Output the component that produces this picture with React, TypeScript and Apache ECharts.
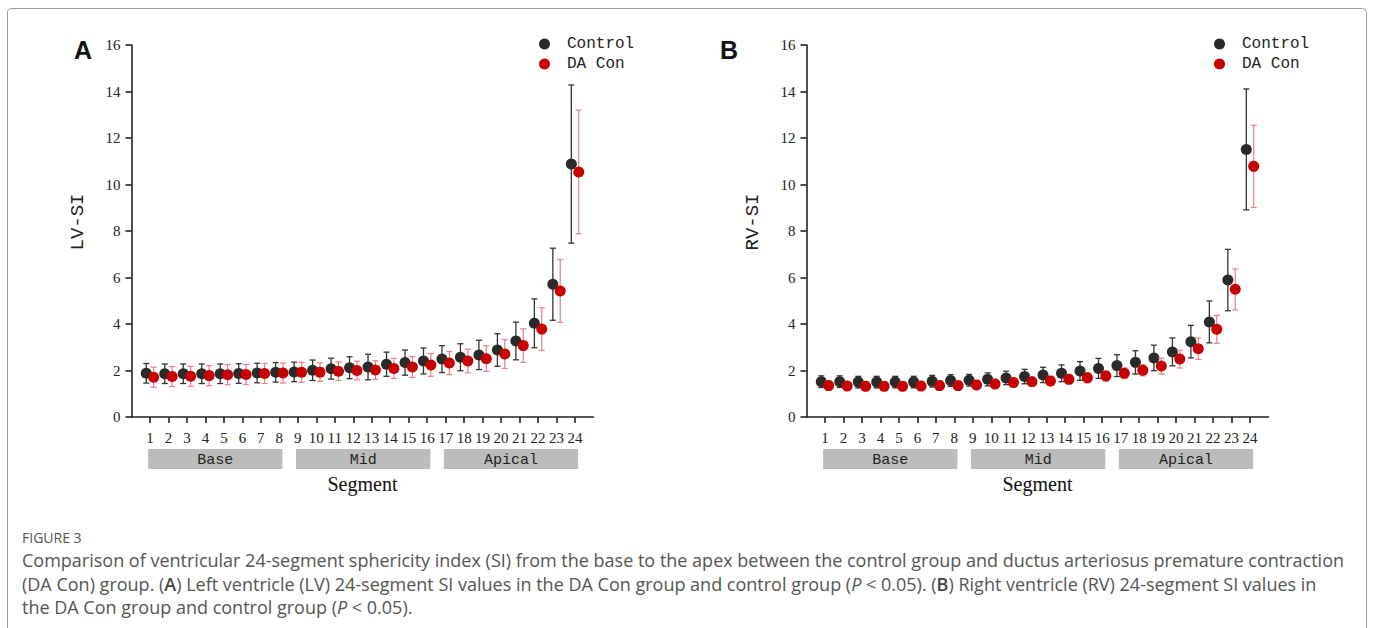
import React, { useEffect, useRef } from "react";
import * as echarts from "echarts";

// ---- data ----
const segments = [1, 2, 3, 4, 5, 6, 7, 8, 9, 10, 11, 12, 13, 14, 15, 16, 17, 18, 19, 20, 21, 22, 23, 24];

const lvControlMean = [1.88, 1.86, 1.86, 1.86, 1.86, 1.87, 1.89, 1.92, 1.94, 2.01, 2.08, 2.12, 2.15, 2.27, 2.34, 2.41, 2.49, 2.57, 2.67, 2.88, 3.27, 4.03, 5.71, 10.88];
const lvControlSD = [0.42, 0.42, 0.42, 0.42, 0.42, 0.42, 0.42, 0.42, 0.42, 0.44, 0.45, 0.47, 0.55, 0.52, 0.54, 0.56, 0.58, 0.58, 0.63, 0.7, 0.81, 1.05, 1.55, 3.4];
const lvDaMean = [1.71, 1.74, 1.75, 1.78, 1.82, 1.83, 1.87, 1.89, 1.92, 1.93, 1.97, 2.0, 2.02, 2.09, 2.15, 2.24, 2.32, 2.41, 2.51, 2.71, 3.07, 3.78, 5.42, 10.54];
const lvDaSD = [0.43, 0.43, 0.43, 0.43, 0.43, 0.43, 0.43, 0.43, 0.43, 0.4, 0.4, 0.4, 0.4, 0.43, 0.45, 0.49, 0.5, 0.51, 0.55, 0.62, 0.72, 0.92, 1.35, 2.66];

const rvControlMean = [1.52, 1.52, 1.5, 1.5, 1.5, 1.5, 1.54, 1.57, 1.58, 1.62, 1.68, 1.74, 1.81, 1.88, 1.98, 2.09, 2.21, 2.35, 2.54, 2.8, 3.24, 4.09, 5.89, 11.51];
const rvControlSD = [0.25, 0.25, 0.25, 0.25, 0.25, 0.25, 0.25, 0.25, 0.25, 0.28, 0.29, 0.31, 0.33, 0.36, 0.4, 0.43, 0.47, 0.5, 0.55, 0.6, 0.7, 0.9, 1.32, 2.6];
const rvDaMean = [1.35, 1.33, 1.32, 1.32, 1.32, 1.33, 1.35, 1.35, 1.38, 1.42, 1.48, 1.52, 1.55, 1.62, 1.69, 1.76, 1.88, 2.01, 2.19, 2.49, 2.94, 3.77, 5.49, 10.78];
const rvDaSD = [0.2, 0.2, 0.2, 0.2, 0.2, 0.2, 0.2, 0.2, 0.2, 0.2, 0.2, 0.2, 0.2, 0.21, 0.22, 0.22, 0.23, 0.24, 0.34, 0.38, 0.46, 0.6, 0.88, 1.77];

const yTicks = [0, 2, 4, 6, 8, 10, 12, 14, 16];
const bandNames = ["Base", "Mid", "Apical"];
const bandStart = [1, 9, 17];
const bandEnd = [8, 16, 24];
const seriesNames = ["Control", "DA Con"];
const panelTitles = ["LV-SI", "RV-SI"];

// ---- styles ----
const BLACK = "#2a2a2a";
const RED = "#c80000";
const BLACK_BAR = "#333333";
const RED_BAR = "#e8808a";
const SERIF = "'Liberation Serif', 'DejaVu Serif', serif";
const MONO = "'Liberation Mono', 'DejaVu Sans Mono', monospace";
const SANS = "'Open Sans', 'Noto Sans', sans-serif";
const OFFSET = 0.2;

function errRender(color: string, lw: number) {
  return (params: any, api: any) => {
    const x = api.value(0);
    const top = api.coord([x, api.value(2)]);
    const bot = api.coord([x, api.value(1)]);
    const c = 3;
    const st = { stroke: color, lineWidth: lw };
    return {
      type: "group",
      children: [
        { type: "line", shape: { x1: top[0], y1: top[1], x2: bot[0], y2: bot[1] }, style: st },
        { type: "line", shape: { x1: top[0] - c, y1: top[1], x2: top[0] + c, y2: top[1] }, style: st },
        { type: "line", shape: { x1: bot[0] - c, y1: bot[1], x2: bot[0] + c, y2: bot[1] }, style: st },
      ],
    };
  };
}

function bandRender(params: any, api: any) {
  const s = api.value(0);
  const e = api.value(1);
  const p1 = api.coord([s - 0.1, 0]);
  const p2 = api.coord([e + 0.17, 0]);
  const y = p1[1] + 32;
  const h = 20;
  return {
    type: "group",
    children: [
      { type: "rect", shape: { x: p1[0], y, width: p2[0] - p1[0], height: h }, style: { fill: "#bcbcbc" } },
      {
        type: "text",
        style: {
          text: bandNames[params.dataIndex],
          x: (p1[0] + p2[0]) / 2,
          y: y + h / 2 + 1,
          align: "center",
          verticalAlign: "middle",
          font: `15px ${MONO}`,
          fill: "#222",
        },
      },
    ],
  };
}

function buildPanel(idx: number, cMean: number[], cSD: number[], dMean: number[], dSD: number[]) {
  const cErr = segments.map((s, i) => [s - OFFSET, cMean[i] - cSD[i], cMean[i] + cSD[i]]);
  const dErr = segments.map((s, i) => [s + OFFSET, dMean[i] - dSD[i], dMean[i] + dSD[i]]);
  const cPts = segments.map((s, i) => [s - OFFSET, cMean[i]]);
  const dPts = segments.map((s, i) => [s + OFFSET, dMean[i]]);
  const bands = bandStart.map((s, i) => [s, bandEnd[i]]);
  const common = { xAxisIndex: idx, yAxisIndex: idx };
  return [
    { ...common, type: "custom", name: `ctrl-sd-${idx}`, renderItem: errRender(BLACK_BAR, 1.3), data: cErr, z: 2, clip: false, silent: true },
    { ...common, type: "scatter", name: seriesNames[0], data: cPts, symbolSize: 11, itemStyle: { color: BLACK, opacity: 1 }, z: 3 },
    { ...common, type: "custom", name: `da-sd-${idx}`, renderItem: errRender(RED_BAR, 1.2), data: dErr, z: 4, clip: false, silent: true },
    { ...common, type: "scatter", name: seriesNames[1], data: dPts, symbolSize: 11, itemStyle: { color: RED, opacity: 1 }, z: 5 },
    { ...common, type: "custom", name: `bands-${idx}`, renderItem: bandRender, data: bands, z: 1, clip: false, silent: true },
  ];
}

function xAxisCfg(idx: number) {
  return {
    gridIndex: idx,
    type: "value",
    min: 0,
    max: 25,
    name: "Segment",
    nameLocation: "middle",
    nameGap: 57,
    nameTextStyle: { fontFamily: SERIF, fontSize: 20, color: "#111" },
    axisLine: { show: true, onZero: false, lineStyle: { color: "#222", width: 1.6 } },
    axisTick: { show: true, length: 6, customValues: segments, lineStyle: { color: "#222", width: 1.6 } },
    axisLabel: { customValues: segments, interval: 0, hideOverlap: false, margin: 13, fontFamily: SERIF, fontSize: 15, color: "#222" },
    splitLine: { show: false },
  };
}

function yAxisCfg(idx: number) {
  return {
    gridIndex: idx,
    type: "value",
    min: 0,
    max: 16,
    interval: 2,
    axisLine: { show: true, lineStyle: { color: "#222", width: 1.6 } },
    axisTick: { show: true, length: 6, customValues: yTicks, lineStyle: { color: "#222", width: 1.6 } },
    axisLabel: { customValues: yTicks, margin: 11, fontFamily: SERIF, fontSize: 15, color: "#222" },
    splitLine: { show: false },
  };
}

function legendCfg(left: number) {
  return {
    left,
    top: 31,
    orient: "vertical",
    icon: "circle",
    itemWidth: 11,
    itemHeight: 11,
    itemGap: 4,
    data: seriesNames,
    selectedMode: false,
    textStyle: { fontFamily: MONO, fontSize: 16, color: "#222", padding: [0, 0, 0, 12] },
  };
}

export default function App() {
  const ref = useRef<HTMLDivElement>(null);
  useEffect(() => {
    if (!ref.current) return;
    const chart = echarts.init(ref.current, undefined, { renderer: "svg" });
    const capStyle = { font: `18px ${SANS}`, fill: "#555" };
    chart.setOption({
      animation: false,
      backgroundColor: "#ffffff",
      grid: [
        { left: 131.5, top: 45, width: 462, height: 372 },
        { left: 806.5, top: 45, width: 462, height: 372 },
      ],
      xAxis: [xAxisCfg(0), xAxisCfg(1)],
      yAxis: [yAxisCfg(0), yAxisCfg(1)],
      legend: [legendCfg(534), legendCfg(1209)],
      series: [
        ...buildPanel(0, lvControlMean, lvControlSD, lvDaMean, lvDaSD),
        ...buildPanel(1, rvControlMean, rvControlSD, rvDaMean, rvDaSD),
      ],
      graphic: [
        { type: "rect", shape: { x: 7.5, y: 8.5, width: 1359, height: 650, r: 4 }, style: { fill: "none", stroke: "#9a9a9a", lineWidth: 1 }, z: -10, silent: true },
        { type: "text", style: { text: "A", x: 83, y: 50, align: "center", verticalAlign: "middle", font: `bold 25px 'Liberation Sans', Arial, sans-serif`, fill: "#111" } },
        { type: "text", style: { text: "B", x: 729, y: 50, align: "center", verticalAlign: "middle", font: `bold 25px 'Liberation Sans', Arial, sans-serif`, fill: "#111" } },
        { type: "text", rotation: Math.PI / 2, x: 78, y: 222, style: { text: panelTitles[0], align: "center", verticalAlign: "middle", font: `19px ${MONO}`, fill: "#222" } },
        { type: "text", rotation: Math.PI / 2, x: 753, y: 222, style: { text: panelTitles[1], align: "center", verticalAlign: "middle", font: `19px ${MONO}`, fill: "#222" } },
        { type: "text", style: { text: "FIGURE 3", x: 22, y: 537, verticalAlign: "middle", font: `14px ${SANS}`, fill: "#555" } },
        {
          type: "text",
          style: {
            text: "Comparison of ventricular 24-segment sphericity index (SI) from the base to the apex between the control group and ductus arteriosus premature contraction",
            x: 22, y: 560, verticalAlign: "middle", ...capStyle,
          },
        },
        {
          type: "text",
          style: {
            text: "(DA Con) group. ({b|A}) Left ventricle (LV) 24-segment SI values in the DA Con group and control group ({i|P} < 0.05). ({b|B}) Right ventricle (RV) 24-segment SI values in",
            x: 22, y: 583.5, verticalAlign: "middle", ...capStyle,
            rich: {
              b: { fontFamily: SANS, fontSize: 18, fontWeight: 600, fill: "#444" },
              i: { fontFamily: SANS, fontSize: 18, fontStyle: "italic", fill: "#555" },
            },
          },
        },
        {
          type: "text",
          style: {
            text: "the DA Con group and control group ({i|P} < 0.05).",
            x: 22, y: 607, verticalAlign: "middle", ...capStyle,
            rich: { i: { fontFamily: SANS, fontSize: 18, fontStyle: "italic", fill: "#555" } },
          },
        },
      ],
    });
    return () => chart.dispose();
  }, []);
  return <div ref={ref} style={{ position: "absolute", left: 0, top: 0, width: 1375, height: 628 }} />;
}
